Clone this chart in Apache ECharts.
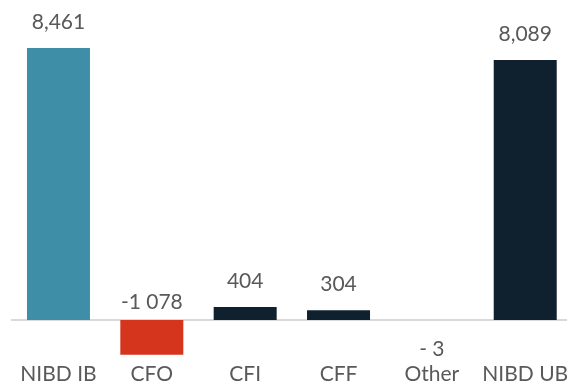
<!DOCTYPE html>
<html>
<head>
<meta charset="utf-8">
<script src="https://cdn.jsdelivr.net/npm/echarts@6/dist/echarts.min.js"></script>
<style>
  html, body { margin: 0; padding: 0; background: #ffffff; }
  #chart { width: 567px; height: 385px; }
</style>
</head>
<body>
<div id="chart"></div>
<script>
// Net interest-bearing debt bridge: opening balance, cash flows, closing balance
const categories = ['NIBD IB', 'CFO', 'CFI', 'CFF', 'Other', 'NIBD UB'];
const values = [8461, -1078, 404, 304, -3, 8089];
const valueLabels = ['8,461', '-1 078', '404', '304', '- 3', '8,089'];
const barColors = ['#3f8ea8', '#d5351c', '#0f202e', '#0f202e', '#0f202e', '#0f202e'];

const FONT = 'Lato';
const TEXT_COLOR = '#595959';

function labelFor(i) {
  const base = {
    show: true,
    formatter: valueLabels[i],
    color: TEXT_COLOR,
    fontFamily: FONT,
    fontSize: 21
  };
  if (categories[i] === 'Other') {
    return Object.assign(base, { position: 'bottom', distance: 19 });
  }
  if (values[i] < 0) {
    return Object.assign(base, { position: 'top', distance: 7 });
  }
  return Object.assign(base, { position: 'top', distance: 15 });
}

const seriesData = values.map((v, i) => ({
  value: v,
  itemStyle: { color: barColors[i] },
  label: labelFor(i)
}));

const chart = echarts.init(document.getElementById('chart'), null, { renderer: 'canvas' });
chart.setOption({
  animation: false,
  backgroundColor: '#ffffff',
  // the grid's bottom edge is the zero line; negative bars hang below it
  grid: { left: 11.8, right: -4.9, top: 30.6, bottom: 65, containLabel: false, outerBoundsMode: 'none' },
  xAxis: {
    type: 'category',
    data: categories,
    axisLine: { onZero: true, lineStyle: { color: '#d9d9d9', width: 2 } },
    axisTick: { show: false },
    axisLabel: {
      color: TEXT_COLOR,
      fontFamily: FONT,
      fontSize: 21,
      margin: 44,
      interval: 0
    },
    splitLine: { show: false }
  },
  yAxis: {
    type: 'value',
    min: 0,
    max: 9000,
    show: false,
    splitLine: { show: false }
  },
  series: [{
    type: 'bar',
    data: seriesData,
    barWidth: 63,
    clip: false
  }]
});
</script>
</body>
</html>
